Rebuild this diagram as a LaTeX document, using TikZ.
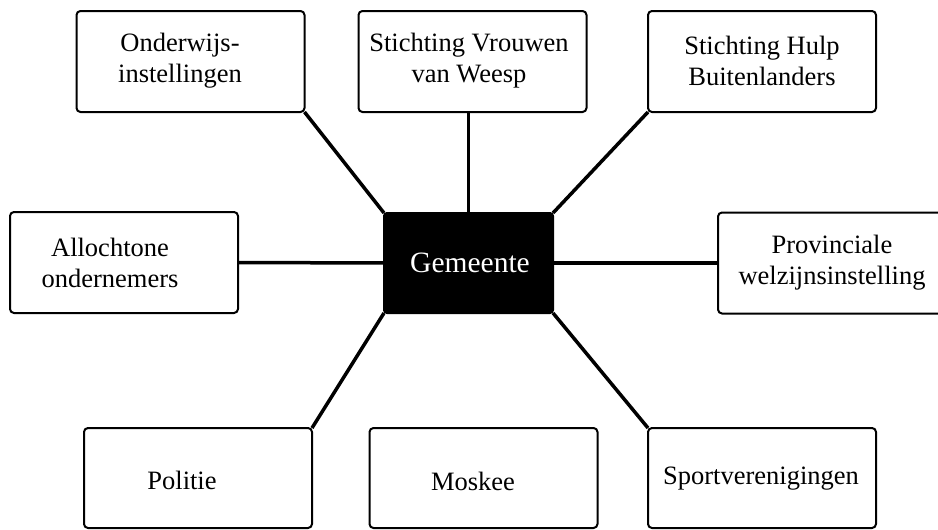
\documentclass[tikz,border=0pt]{standalone}
\usepackage{fontspec}
\setmainfont{Liberation Serif}
\begin{document}
\begin{tikzpicture}[x=1pt,y=-1pt,
  box/.style={draw=black, line width=2pt, rounded corners=4pt, fill=white,
    minimum width=228pt, minimum height=101pt, inner sep=0pt, outer sep=0pt},
  hub/.style={draw=black, fill=black, line width=2pt, rounded corners=3pt,
    minimum width=169pt, minimum height=100pt, inner sep=0pt, outer sep=0pt},
  lbl/.style={align=center, inner sep=0pt, font=\fontsize{26.5}{31}\selectfont},
  link/.style={line width=3.5pt, draw=black}]
\useasboundingbox (0,0) rectangle (938,530);

% boxes
\node[box] (ond) at (190.5,61.5) {};
\node[box] (vro) at (472.5,61.5) {};
\node[box] (hul) at (762,61.5) {};
\node[box] (all) at (124,262.5) {};
\node[hub] (gem) at (468.5,263) {};
\node[box] (pro) at (832,263) {};
\node[box, minimum height=100pt] (pol) at (198,478) {};
\node[box, minimum height=100pt] (mos) at (483.5,478) {};
\node[box, minimum height=100pt] (spo) at (762,478) {};

% labels
\node[lbl] (ondt) at (180,61) {Onderwijs-\\instellingen};
\node[lbl] (vrot) at (469,61) {Stichting Vrouwen\\van Weesp};
\node[lbl] (hult) at (762,61) {Stichting Hulp\\Buitenlanders};
\node[lbl] (allt) at (110,263) {Allochtone\\ondernemers};
\node[lbl, text=white, font=\fontsize{29.5}{34}\selectfont] (gemt) at (470,263) {Gemeente};
\node[lbl] (prot) at (832,263) {Provinciale\\welzijnsinstelling};
\node[lbl] (polt) at (182,480) {Politie};
\node[lbl] (most) at (473,481) {Moskee};
\node[lbl] (spot) at (761,479) {Sportverenigingen};

% connectors
\draw[link] (ond.south east) -- (gem.north west);
\draw[link] (gem.north) -- (gem.north |- vro.south);
\draw[link] (hul.south west) -- (gem.north east);
\draw[link] (all.east) -- (gem.west);
\draw[link] (gem.east) -- (pro.west);
\draw[link] (pol.north east) -- (gem.south west);
\draw[link] (spo.north west) -- (gem.south east);
\end{tikzpicture}
\end{document}
